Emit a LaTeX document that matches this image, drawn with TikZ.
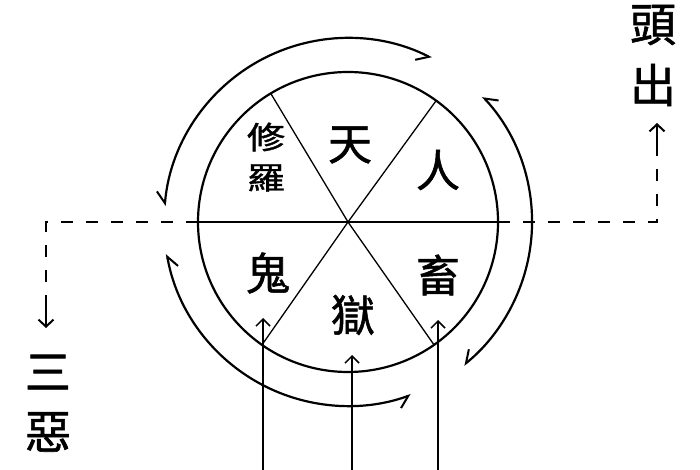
\documentclass[tikz,border=0pt]{standalone}
\usepackage{fontspec}
\newfontfamily\cjk[FakeBold=1.2]{Noto Sans CJK TC}
\usetikzlibrary{arrows.meta}
\begin{document}
\begin{tikzpicture}[x=1pt,y=1pt,
  ring/.style={line width=2.2pt},
  spoke/.style={line width=1.3pt},
  cyc/.style={line width=2.2pt,
    {Straight Barb[right,length=11pt,width=18pt,line width=2pt]}-{Straight Barb[right,length=11pt,width=18pt,line width=2pt]}},
  uparr/.style={line width=1.5pt, -{Straight Barb[length=7pt,width=14pt,line width=1.5pt]}},
  dsh/.style={line width=2pt, dash pattern=on 12pt off 13pt},
  dshtip/.style={line width=2pt, -{Straight Barb[length=7pt,width=15pt,line width=2pt]}},
  big/.style={font=\cjk\fontsize{46}{46}\selectfont, inner sep=0pt},
  mid/.style={font=\cjk\fontsize{44}{44}\selectfont, inner sep=0pt},
  small/.style={font=\cjk\fontsize{38}{38}\selectfont, inner sep=0pt, yscale=0.82}]
\useasboundingbox (0,0) rectangle (700,470);
\coordinate (C) at (348,248);
\coordinate (W) at (198,248);
\coordinate (E) at (498,248);
% wheel
\draw[ring] (C) circle[radius=150];
\draw[spoke] (W) -- (E);
\coordinate (S1) at ([shift={(121:150)}]C);
\coordinate (S2) at ([shift={(54:150)}]C);
\coordinate (S3) at ([shift={(235:150)}]C);
\coordinate (S4) at ([shift={(305:150)}]C);
\draw[spoke] (S1) -- (C) -- (S4);
\draw[spoke] (S2) -- (C) -- (S3);
% cycling arcs
\draw[cyc] ([shift={(175:184)}]C) arc[start angle=175, end angle=63, radius=184];
\draw[cyc] ([shift={(43:184)}]C) arc[start angle=43, end angle=-51, radius=184];
\draw[cyc] ([shift={(190:184)}]C) arc[start angle=190, end angle=290, radius=184];
% dashed exits
\coordinate (LC) at (46,248);
\coordinate (LT) at (46,142);
\coordinate (LM) at (46,170);
\coordinate (RC) at (657,248);
\coordinate (RT) at (657,347);
\coordinate (RM) at (657,320);
\draw[dsh] (W) -- (LC) -- (LM);
\draw[dshtip] (LM) -- (LT);
\draw[dsh] (E) -- (RC) -- (RM);
\draw[dshtip] (RM) -- (RT);
% rising arrows
\coordinate (B1) at (263,0);  \coordinate (T1) at (263,152);
\coordinate (B2) at (352,0);  \coordinate (T2) at (352,115);
\coordinate (B3) at (438,0);  \coordinate (T3) at (438,150);
\draw[uparr] (B1) -- (T1);
\draw[uparr] (B2) -- (T2);
\draw[uparr, line width=1.2pt] (B3) -- (T3);
% labels
\node[mid] (tian) at (350,325) {天};
\node[mid] (ren) at (438,300) {人};
\node[small] (xiu) at (266,333) {修};
\node[small] (luo) at (266,292) {羅};
\node[mid] (gui) at (268,197) {鬼};
\node[mid] (yu) at (353,155) {獄};
\node[mid] (chu) at (438,195) {畜};
\node[big] (tou) at (653,445) {頭};
\node[big] (chu2) at (653,385) {出};
\node[big] (san) at (48,98) {三};
\node[big] (e) at (48,38) {惡};
\end{tikzpicture}
\end{document}
